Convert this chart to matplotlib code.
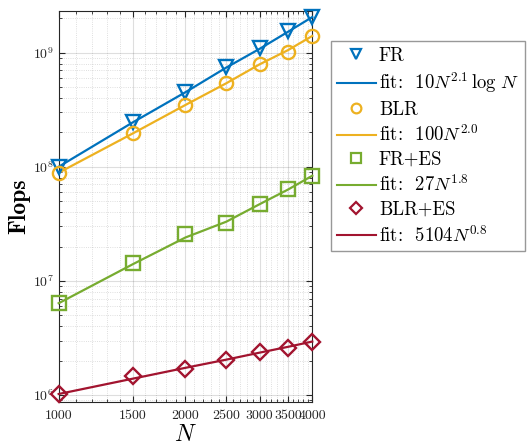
import numpy as np
import matplotlib
matplotlib.use("Agg")
import matplotlib.pyplot as plt
from matplotlib.lines import Line2D
from matplotlib.ticker import FixedLocator, NullFormatter, LogLocator

plt.rcParams['font.family'] = 'cmr10'
plt.rcParams['mathtext.fontset'] = 'cm'
plt.rcParams['axes.formatter.use_mathtext'] = True

# donnees
N = [1000, 1500, 2000, 2500, 3000, 3500, 4000]

fr = [1.0e8, 2.48e8, 4.55e8, 7.54e8, 1.09e9, 1.55e9, 2.07e9]
fr_fit = [1.0e8, 2.45e8, 4.5e8, 7.4e8, 1.08e9, 1.52e9, 2.05e9]

blr = [8.86e7, 1.96e8, 3.48e8, 5.39e8, 7.96e8, 1.02e9, 1.40e9]
blr_fit = [8.86e7, 1.96e8, 3.48e8, 5.39e8, 7.9e8, 1.05e9, 1.40e9]

fres = [6.37e6, 1.44e7, 2.57e7, 3.19e7, 4.68e7, 6.34e7, 8.34e7]
fres_fit = [6.37e6, 1.4e7, 2.4e7, 3.3e7, 4.7e7, 6.3e7, 8.34e7]

blres = [1.02e6, 1.47e6, 1.68e6, 2.03e6, 2.40e6, 2.60e6, 2.94e6]
blres_fit = [1.02e6, 1.39e6, 1.73e6, 2.04e6, 2.35e6, 2.64e6, 2.94e6]

labels = ["FR", r"fit:  $10N^{2.1}\,\log\,N$",
          "BLR", r"fit:  $100N^{2.0}$",
          "FR+ES", r"fit:  $27N^{1.8}$",
          "BLR+ES", r"fit:  $5104N^{0.8}$"]

colors = ['#0072BD', '#EDB120', '#77AC30', '#A2142F']
markers = ['v', 'o', 's', 'D']

fig = plt.figure(figsize=(5.32, 4.46), dpi=100)
ax = fig.add_axes([0.1103, 0.0993, 0.4767, 0.8767])

series = [(fr, fr_fit), (blr, blr_fit), (fres, fres_fit), (blres, blres_fit)]
handles = []
for (vals, fit), c, m in zip(series, colors, markers):
    ms = 9.5 if m != 'D' else 8.5
    ax.plot(N, fit, '-', color=c, lw=1.6, zorder=3, clip_on=False)
    ax.plot(N, vals, m, color=c, mfc='none', mew=1.7, ms=ms, zorder=4, clip_on=False)
    handles.append(Line2D([], [], ls='none', marker=m, color=c, mfc='none', mew=1.6,
                          ms=7 if m != 'D' else 6.5))
    handles.append(Line2D([], [], ls='-', color=c, lw=1.5))

ax.set_xscale('log')
ax.set_yscale('log')
ax.set_xlim(1000, 4000)
ax.set_ylim(8.73e5, 2.33e9)

ax.xaxis.set_major_locator(FixedLocator([1000, 1500, 2000, 2500, 3000, 3500, 4000]))
ax.set_xticklabels(['1000', '1500', '2000', '2500', '3000', '3500', '4000'])
ax.xaxis.set_minor_locator(FixedLocator([x for x in range(1100, 4000, 100) if x % 500]))
ax.xaxis.set_minor_formatter(NullFormatter())
ax.yaxis.set_major_locator(LogLocator(base=10, numticks=10))
ax.yaxis.set_minor_locator(LogLocator(base=10, subs=np.arange(2, 10), numticks=20))
ax.yaxis.set_minor_formatter(NullFormatter())

ax.tick_params(which='both', direction='in', top=True, right=True, labelsize=10,
               color='#262626', labelcolor='#262626')
ax.tick_params(which='major', length=4)
ax.tick_params(which='minor', length=2.5)
ax.tick_params(axis='x', pad=6)

ax.grid(which='major', color='#262626', alpha=0.15, lw=0.8)
ax.grid(which='minor', color='#262626', alpha=0.2, lw=0.6, ls=':')
ax.set_axisbelow(True)
for s in ax.spines.values():
    s.set_color('#262626')
    s.set_linewidth(0.8)

ax.set_xlabel(r'$N$', fontsize=17, labelpad=1)
ax.set_ylabel('Flops', fontsize=17, family='cmb10', labelpad=2)

fig.legend(handles, labels, loc='upper left', bbox_to_anchor=(331 / 532, 1 - 41 / 446),
           fontsize=13.5, frameon=True, fancybox=False, edgecolor='#7f7f7f',
           handlelength=2.1, handletextpad=0.15, labelspacing=0.3, borderpad=0.3,
           borderaxespad=0)

fig.savefig('out.png', dpi=100)
